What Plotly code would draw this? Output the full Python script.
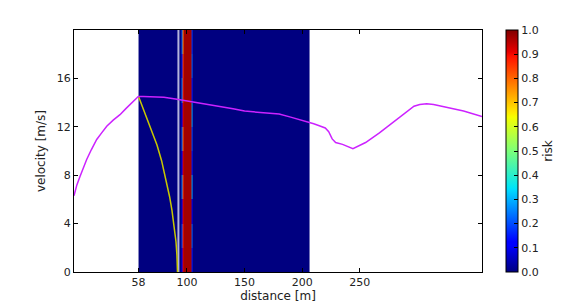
import plotly.graph_objects as go

# ---- data ----
# risk map (heatmap) : column edges in distance, row edges in velocity
risk_x_edges = [58, 95.6, 96.6, 97.2, 103.6, 104.4, 105.2, 206.5]
risk_y_edges = [0, 2, 4, 6, 8, 10, 12, 14, 16, 18, 20]
risk_z = [
    [0, 0.12, 0.92, 0.97, 0.80, 0.15, 0],
    [0, 0.20, 0.88, 0.97, 0.75, 0.22, 0],
    [0, 0.10, 0.92, 0.97, 0.85, 0.10, 0],
    [0, 0.25, 0.85, 0.97, 0.72, 0.28, 0],
    [0, 0.12, 0.92, 0.97, 0.88, 0.15, 0],
    [0, 0.22, 0.82, 0.97, 0.75, 0.20, 0],
    [0, 0.10, 0.92, 0.97, 0.85, 0.28, 0],
    [0, 0.25, 0.88, 0.97, 0.80, 0.15, 0],
    [0, 0.15, 0.85, 0.97, 0.72, 0.22, 0],
    [0, 0.22, 0.78, 0.97, 0.68, 0.18, 0],
]

# velocity profile (magenta)
profile_dist = [2, 4.5, 7.2, 10, 13, 17, 21.7, 26, 30.4, 36, 41.9, 47, 52, 57.8, 62, 70, 80,
                90, 100, 110, 120, 130, 140, 150, 160, 170, 180, 190, 200, 210, 216, 220,
                223, 226, 229, 235, 244, 255, 267, 278, 290, 297, 302, 308, 314, 325,
                340, 356]
profile_vel = [6.3, 7.2, 7.9, 8.6, 9.3, 10.1, 10.95, 11.5, 12.05, 12.55, 13.0, 13.5, 13.95,
               14.5, 14.5, 14.5, 14.45, 14.3, 14.15, 14.0, 13.85, 13.7, 13.5, 13.3, 13.2,
               13.15, 13.05, 12.8, 12.55, 12.25, 12.05, 11.9, 11.6, 11.0, 10.7, 10.55,
               10.2, 10.7, 11.5, 12.3, 13.2, 13.7, 13.85, 13.9, 13.85, 13.6, 13.3, 12.85]

# braking curve (yellow)
brake_dist = [58, 60, 63, 66, 70, 74, 78, 82, 85, 87, 89, 90.5, 91.3, 91.8]
brake_vel = [14.5, 14.0, 13.3, 12.6, 11.6, 10.5, 9.2, 7.6, 6.2, 5.1, 3.8, 2.5, 1.4, 0]

# occupancy marker (gray vertical line)
marker_dist = [92.6, 92.6]
marker_vel = [0, 20]

x_ticks = [58, 100, 150, 200, 250]
y_ticks = [0, 4, 8, 12, 16]
cb_ticks = [0.0, 0.1, 0.2, 0.3, 0.4, 0.5, 0.6, 0.7, 0.8, 0.9, 1.0]

jet = [
    [0.0, "rgb(0,0,128)"],
    [0.11, "rgb(0,0,255)"],
    [0.125, "rgb(0,0,255)"],
    [0.34, "rgb(0,219,255)"],
    [0.35, "rgb(0,229,246)"],
    [0.5, "rgb(124,255,121)"],
    [0.64, "rgb(246,255,0)"],
    [0.66, "rgb(255,234,0)"],
    [0.89, "rgb(255,18,0)"],
    [0.91, "rgb(232,0,0)"],
    [1.0, "rgb(128,0,0)"],
]

font = "DejaVu Sans"

fig = go.Figure()
fig.add_trace(go.Heatmap(
    x=risk_x_edges, y=risk_y_edges, z=risk_z,
    zmin=0, zmax=1, colorscale=jet, zsmooth=False,
    colorbar=dict(
        x=1.059, xanchor="left", y=0.5, yanchor="middle",
        len=1.0, lenmode="fraction", thickness=12, ypad=0, xpad=0,
        outlinecolor="black", outlinewidth=1,
        tickvals=cb_ticks, tickformat=".1f", ticks="inside", ticklen=4,
        tickcolor="black",
        tickfont=dict(family=font, size=11, color="#222"),
        title=dict(text="risk", side="right", font=dict(family=font, size=12, color="#222")),
    ),
    showscale=True,
))
fig.add_trace(go.Scatter(x=marker_dist, y=marker_vel, mode="lines",
                         line=dict(color="rgba(190,190,225,0.95)", width=2),
                         showlegend=False, hoverinfo="skip"))
fig.add_trace(go.Scatter(x=brake_dist, y=brake_vel, mode="lines",
                         line=dict(color="#c8c800", width=1.5),
                         showlegend=False))
fig.add_trace(go.Scatter(x=profile_dist, y=profile_vel, mode="lines",
                         line=dict(color="#cc22ff", width=1.5),
                         showlegend=False))

axis_common = dict(
    showgrid=False, zeroline=False, showline=True, linecolor="black", linewidth=1,
    mirror="ticks", ticks="inside", ticklen=4, tickcolor="black",
    tickfont=dict(family=font, size=11, color="#222"),
)
fig.update_xaxes(range=[2, 356], tickvals=x_ticks,
                 title=dict(text="distance [m]", font=dict(family=font, size=12, color="#222"), standoff=2),
                 **axis_common)
fig.update_yaxes(range=[0, 20], tickvals=y_ticks,
                 title=dict(text="velocity [m/s]", font=dict(family=font, size=12, color="#222"), standoff=8),
                 **axis_common)
fig.update_layout(
    width=580, height=304,
    margin=dict(l=74, r=98, t=30, b=32, autoexpand=False),
    paper_bgcolor="white", plot_bgcolor="white",
    showlegend=False,
)
fig.write_html("out.html", config={"displayModeBar": False},
               post_script="document.body.style.margin='0';document.body.style.padding='0';")
